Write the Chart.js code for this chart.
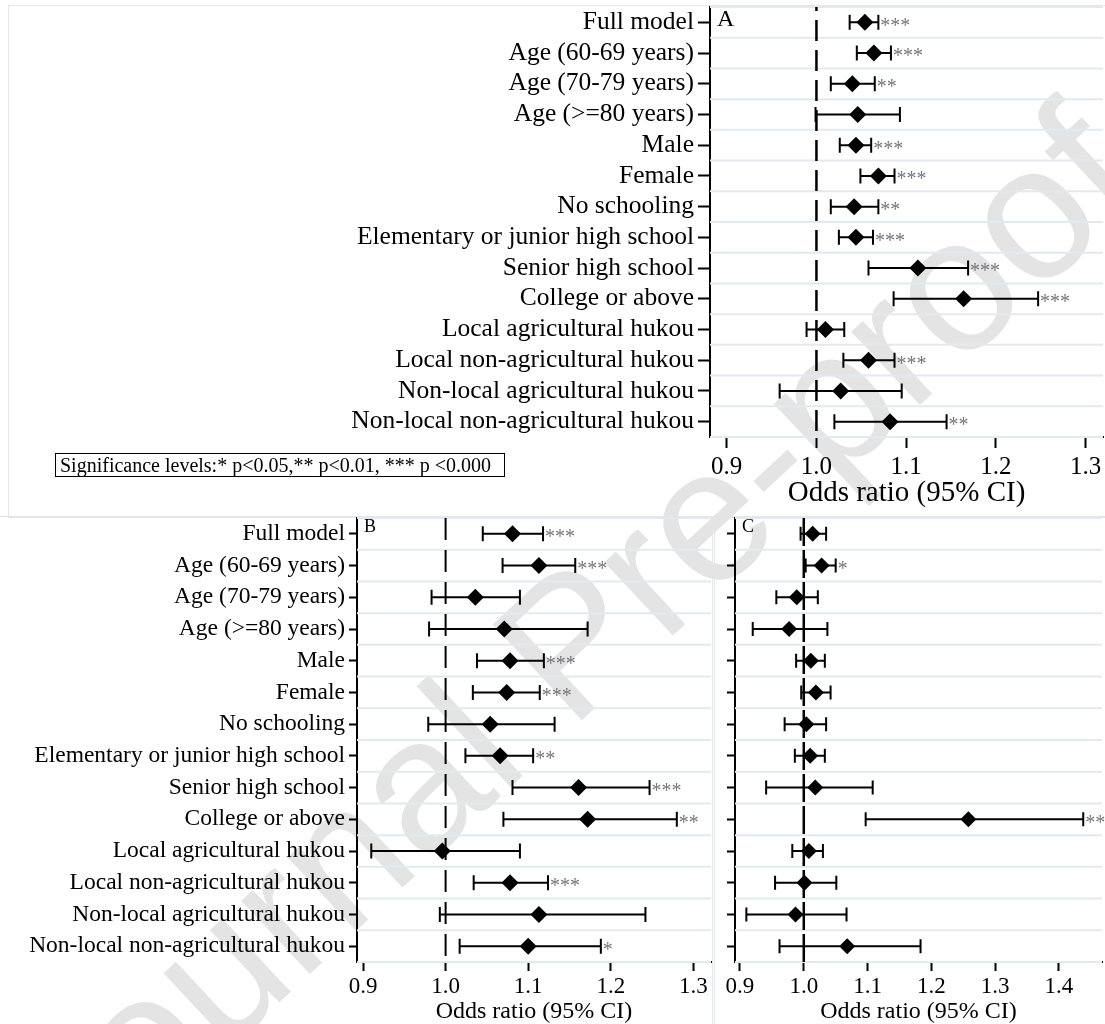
<!DOCTYPE html>
<html>
<head>
<meta charset="utf-8">
<title>Odds ratio forest plots</title>
<script src="https://cdn.jsdelivr.net/npm/chart.js@4.4.1/dist/chart.umd.min.js"></script>
<style>
  body { margin: 0; background: #fff; }
  #page { position: relative; width: 1105px; height: 1024px; overflow: hidden; background: #fff; }
  .frame { position: absolute; border: 1px solid #e1e7eb; }
  #mark { position: absolute; left: 568px; top: 643px; transform: translate(-50%, -50%) rotate(-43deg);
          font: 190px "Liberation Sans", Arial, sans-serif; color: #e4e4e4; white-space: nowrap; line-height: 1; }
  #sig { position: absolute; left: 55px; top: 453px; width: 444px; height: 22px; padding-left: 4px;
         border: 1px solid #000; font: 20px "Liberation Serif", serif; line-height: 22px; white-space: nowrap; }
  canvas { position: absolute; }
</style>
</head>
<body>
<div id="page">
  <div class="frame" style="left:8px;top:5px;width:1110px;height:511px;"></div>
  <div class="frame" style="left:-2px;top:516px;width:713px;height:520px;"></div>
  <div class="frame" style="left:714px;top:516px;width:400px;height:520px;"></div>
  <div id="mark">Journal Pre-proof</div>
  <canvas id="chartA" width="1105" height="516" style="left:0;top:0;"></canvas>
  <canvas id="chartB" width="713" height="508" style="left:0;top:516px;"></canvas>
  <canvas id="chartC" width="392" height="508" style="left:713px;top:516px;"></canvas>
  <div id="sig">Significance levels:* p&lt;0.05,** p&lt;0.01, *** p &lt;0.000</div>
</div>
<script>
var rowLabels = ["Full model", "Age (60-69 years)", "Age (70-79 years)", "Age (>=80 years)",
  "Male", "Female", "No schooling", "Elementary or junior high school", "Senior high school",
  "College or above", "Local agricultural hukou", "Local non-agricultural hukou",
  "Non-local agricultural hukou", "Non-local non-agricultural hukou"];

// panel A
var orA = [1.054, 1.064, 1.040, 1.046, 1.044, 1.069, 1.042, 1.044, 1.113, 1.164, 1.010, 1.058, 1.027, 1.082];
var loA = [1.037, 1.045, 1.016, 0.999, 1.026, 1.049, 1.016, 1.025, 1.058, 1.086, 0.989, 1.030, 0.959, 1.020];
var hiA = [1.069, 1.083, 1.065, 1.093, 1.061, 1.087, 1.069, 1.063, 1.169, 1.247, 1.031, 1.087, 1.095, 1.145];
var sigA = ["***", "***", "**", "", "***", "***", "**", "***", "***", "***", "", "***", "", "**"];

// panel B
var orB = [1.081, 1.113, 1.036, 1.071, 1.078, 1.074, 1.054, 1.066, 1.161, 1.172, 0.996, 1.078, 1.113, 1.100];
var loB = [1.045, 1.069, 0.983, 0.980, 1.038, 1.033, 0.979, 1.024, 1.081, 1.070, 0.910, 1.034, 0.993, 1.017];
var hiB = [1.118, 1.157, 1.090, 1.172, 1.119, 1.114, 1.132, 1.106, 1.247, 1.280, 1.090, 1.124, 1.242, 1.188];
var sigB = ["***", "***", "", "", "***", "***", "", "**", "***", "**", "", "***", "", "*"];

// panel C
var orC = [1.014, 1.028, 0.989, 0.977, 1.011, 1.019, 1.004, 1.010, 1.018, 1.258, 1.008, 1.001, 0.987, 1.068];
var loC = [0.995, 1.003, 0.957, 0.920, 0.988, 0.996, 0.970, 0.986, 0.941, 1.097, 0.982, 0.955, 0.910, 0.962];
var hiC = [1.035, 1.050, 1.022, 1.037, 1.033, 1.042, 1.035, 1.033, 1.108, 1.438, 1.030, 1.051, 1.067, 1.183];
var sigC = ["", "*", "", "", "", "", "", "", "", "**", "", "", "", ""];

var ticksAB = [0.9, 1.0, 1.1, 1.2, 1.3];
var ticksC = [0.9, 1.0, 1.1, 1.2, 1.3, 1.4];
var refValue = 1.0;

var FONT = "'Liberation Serif', 'Times New Roman', serif";

function forestChart(id, o) {
  var points = o.or.map(function(v, i) { return {x: v, y: rowLabels[i]}; });

  // whiskers, row lines, reference line, stars, panel letter
  var forest = {
    id: 'forest_' + id,
    beforeDatasetsDraw: function(chart) {
      var ctx = chart.ctx, a = chart.chartArea;
      var x = chart.scales.x, y = chart.scales.y;
      var step = y.getPixelForValue(1) - y.getPixelForValue(0);
      ctx.save();
      ctx.strokeStyle = '#e2eaef';
      ctx.lineWidth = 2;
      for (var i = 0; i <= rowLabels.length; i++) {
        var gy = y.getPixelForValue(i) - step / 2;
        ctx.beginPath(); ctx.moveTo(a.left, gy); ctx.lineTo(a.right, gy); ctx.stroke();
      }
      var rx = x.getPixelForValue(refValue);
      ctx.strokeStyle = '#000';
      ctx.lineWidth = o.refWidth;
      ctx.setLineDash(o.dash);
      ctx.lineDashOffset = o.dashOffset;
      ctx.beginPath(); ctx.moveTo(rx, a.top); ctx.lineTo(rx, a.bottom); ctx.stroke();
      ctx.setLineDash([]);
      ctx.lineWidth = 2;
      for (var j = 0; j < o.lo.length; j++) {
        var py = y.getPixelForValue(j);
        var x0 = x.getPixelForValue(o.lo[j]), x1 = x.getPixelForValue(o.hi[j]);
        ctx.beginPath();
        ctx.moveTo(x0, py); ctx.lineTo(x1, py);
        ctx.moveTo(x0, py - o.cap); ctx.lineTo(x0, py + o.cap);
        ctx.moveTo(x1, py - o.cap); ctx.lineTo(x1, py + o.cap);
        ctx.stroke();
      }
      ctx.restore();
    },
    afterDatasetsDraw: function(chart) {
      var ctx = chart.ctx, a = chart.chartArea;
      var x = chart.scales.x, y = chart.scales.y;
      ctx.save();
      ctx.fillStyle = '#72767d';
      ctx.font = o.starSize + 'px ' + FONT;
      ctx.textAlign = 'left';
      ctx.textBaseline = 'alphabetic';
      for (var j = 0; j < o.sig.length; j++) {
        if (!o.sig[j]) continue;
        ctx.fillText(o.sig[j], x.getPixelForValue(o.hi[j]) + 2, y.getPixelForValue(j) + o.starSize * 0.47);
      }
      ctx.fillStyle = '#000';
      ctx.font = o.letterSize + 'px ' + FONT;
      ctx.fillText(o.letter, a.left + 7, a.top + o.letterDrop);
      ctx.restore();
    }
  };

  return new Chart(document.getElementById(id), {
    type: 'scatter',
    data: {
      labels: rowLabels,
      datasets: [{
        data: points,
        pointStyle: 'rectRot',
        pointRadius: o.marker,
        pointHoverRadius: o.marker,
        backgroundColor: '#000',
        borderColor: '#000',
        borderWidth: 0
      }]
    },
    options: {
      responsive: false,
      animation: false,
      events: [],
      layout: { autoPadding: false, padding: { left: 0, top: o.area.top, right: o.area.rightGap, bottom: 0 } },
      plugins: { legend: { display: false }, tooltip: { enabled: false } },
      scales: {
        y: {
          type: 'category',
          labels: rowLabels,
          offset: true,
          afterFit: function(s) { s.width = o.area.left; s.paddingTop = 0; s.paddingBottom = 0; },
          border: { color: '#000', width: 2 },
          grid: { offset: false, drawOnChartArea: false, tickLength: o.yTick, tickColor: '#000', tickWidth: 2 },
          ticks: {
            autoSkip: false,
            color: '#000',
            padding: o.yPad,
            font: { family: FONT, size: o.labelSize },
            callback: function(v, i) { return o.showLabels ? rowLabels[i] : ''; }
          }
        },
        x: {
          type: 'linear',
          min: o.min,
          max: o.max,
          afterBuildTicks: function(s) { s.ticks = o.ticks.map(function(v) { return {value: v}; }); },
          afterFit: function(s) { s.height = o.xHeight; s.paddingLeft = 0; s.paddingRight = 0; },
          border: { color: '#000', width: 2 },
          grid: { drawOnChartArea: false, tickLength: o.xTick, tickColor: '#000', tickWidth: 2 },
          ticks: {
            color: '#000',
            padding: o.xPad,
            font: { family: FONT, size: o.tickSize },
            callback: function(v) { return Number(v).toFixed(1); }
          },
          title: {
            display: true,
            text: 'Odds ratio (95% CI)',
            color: '#000',
            font: { family: FONT, size: o.titleSize, lineHeight: 1 },
            padding: { top: 0, bottom: o.titlePad }
          }
        }
      }
    },
    plugins: [forest]
  });
}

forestChart('chartA', {
  or: orA, lo: loA, hi: hiA, sig: sigA, ticks: ticksAB, min: 0.8814, max: 1.3193,
  area: { left: 710, rightGap: 2, top: 7 }, xHeight: 79,
  showLabels: true, labelSize: 25.5, yTick: 12, yPad: 4, xTick: 11, xPad: 4, tickSize: 25,
  titleSize: 29, titlePad: 8, marker: 8.5, cap: 7.5, starSize: 20,
  refWidth: 2.5, dash: [21, 9], dashOffset: 17, letter: 'A', letterSize: 24, letterDrop: 19
});

forestChart('chartB', {
  or: orB, lo: loB, hi: hiB, sig: sigB, ticks: ticksAB, min: 0.8927, max: 1.3214,
  area: { left: 357, rightGap: 2, top: 2 }, xHeight: 62,
  showLabels: true, labelSize: 23.5, yTick: 8, yPad: 4, xTick: 9, xPad: 2, tickSize: 23,
  titleSize: 24, titlePad: 0, marker: 8.5, cap: 7.5, starSize: 20,
  refWidth: 2, dash: [22, 10], dashOffset: 0, letter: 'B', letterSize: 18, letterDrop: 14
});

forestChart('chartC', {
  or: orC, lo: loC, hi: hiC, sig: sigC, ticks: ticksC, min: 0.8922, max: 1.4674,
  area: { left: 22, rightGap: 3, top: 2 }, xHeight: 62,
  showLabels: false, labelSize: 23.5, yTick: 8, yPad: 0, xTick: 9, xPad: 2, tickSize: 23,
  titleSize: 24, titlePad: 0, marker: 8, cap: 7, starSize: 20,
  refWidth: 2.5, dash: [28, 4], dashOffset: 0, letter: 'C', letterSize: 18, letterDrop: 14
});
</script>
</body>
</html>
